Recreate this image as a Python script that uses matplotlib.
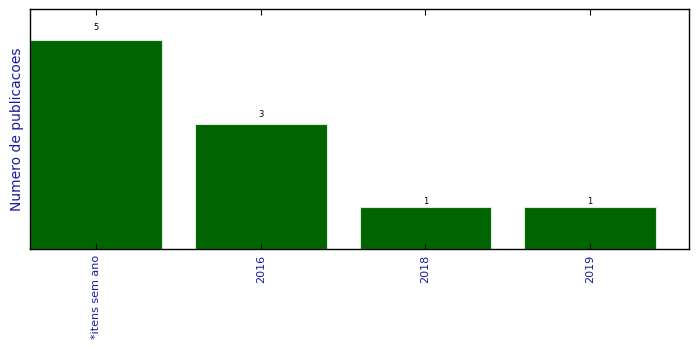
import matplotlib
matplotlib.use("Agg")
import matplotlib.pyplot as plt
import numpy as np

categorias = ["*itens sem ano", "2016", "2018", "2019"]
publicacoes = [5, 3, 1, 1]

fig = plt.figure(figsize=(6.99, 3.49), dpi=100)
ax = fig.add_axes([30 / 699, 1 - 249 / 349, 659 / 699, 240 / 349])

x = np.arange(len(categorias))
ax.bar(x, publicacoes, width=0.8, color="#006400", edgecolor="#d8ecd8", linewidth=0.8)

for xi, v in zip(x, publicacoes):
    ax.text(xi, v * 1.04, str(v), ha="center", va="bottom", fontsize=6)

ax.set_xlim(-0.4, 3.6)
ax.set_ylim(0, max(publicacoes) * 1.15)
ax.set_xticks(x)
ax.set_xticklabels(categorias, rotation=90, color="#1a1aa0", fontsize=8)
ax.set_yticks([])
ax.tick_params(axis="x", direction="in", top=True, length=4, width=0.8, pad=4)
ax.set_ylabel("Numero de publicacoes", color="#1a1aa0", fontsize=10)
for s in ax.spines.values():
    s.set_linewidth(1.0)

fig.savefig("out.png", dpi=100)
